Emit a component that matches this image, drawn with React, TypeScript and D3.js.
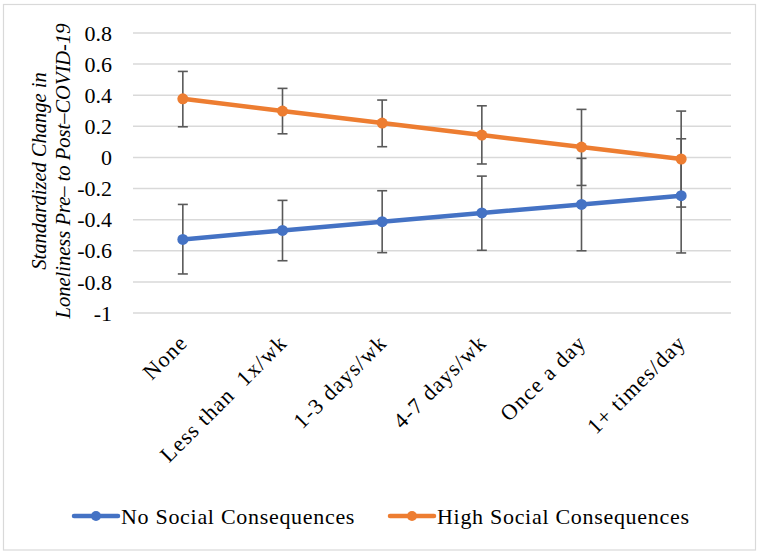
import React from "react";
import * as d3 from "d3";

const categories = ["None", "Less than  1x/wk", "1-3 days/wk", "4-7 days/wk", "Once a day", "1+ times/day"];
const noSocial = [-0.527, -0.469, -0.413, -0.357, -0.302, -0.246];
const noSocialLow = [-0.749, -0.664, -0.612, -0.597, -0.6, -0.614];
const noSocialHigh = [-0.302, -0.276, -0.214, -0.12, -0.006, 0.12];
const highSocial = [0.377, 0.298, 0.221, 0.144, 0.067, -0.01];
const highSocialLow = [0.197, 0.152, 0.069, -0.042, -0.18, -0.319];
const highSocialHigh = [0.553, 0.444, 0.369, 0.332, 0.309, 0.298];
const yTicks = [0.8, 0.6, 0.4, 0.2, 0, -0.2, -0.4, -0.6, -0.8, -1];
const seriesNames = ["No Social Consequences", "High Social Consequences"];

const W = 760;
const H = 559;
const FONT = "'Liberation Serif', 'Times New Roman', serif";

export default function App() {
  const x = d3.scaleBand<string>().domain(categories).range([133, 731]);
  const y = d3.scaleLinear().domain([-1, 0.8]).range([313, 33]);
  const cx = (c: string) => (x(c) as number) + x.bandwidth() / 2;
  const line = d3
    .line<number>()
    .x((_, i) => cx(categories[i]))
    .y((d) => y(d));

  const series = [
    { name: seriesNames[0], vals: noSocial, lo: noSocialLow, hi: noSocialHigh, color: "#4472C4" },
    { name: seriesNames[1], vals: highSocial, lo: highSocialLow, hi: highSocialHigh, color: "#ED7D31" },
  ];
  const fmt = (v: number) => (v === 0 ? "0" : v === -1 ? "-1" : d3.format(".1f")(v).replace("−", "-"));
  const legendX = [74, 390];

  return (
    <svg width={W} height={H} style={{ position: "absolute", left: 0, top: 0, background: "#fff" }} fontFamily={FONT}>
      <rect x={3.5} y={4.5} width={752} height={545.5} fill="#fff" stroke="#d9d9d9" strokeWidth={1.2} />
      {yTicks.map((t) => (
        <g key={t}>
          <line x1={133} x2={731} y1={y(t)} y2={y(t)} stroke="#d9d9d9" strokeWidth={1.5} />
          <text x={112} y={y(t)} dy="0.35em" textAnchor="end" fontSize={22} fill="#000">
            {fmt(t)}
          </text>
        </g>
      ))}
      <g transform={`translate(0,171) rotate(-90)`} fontStyle="italic" fontSize={20.5} textAnchor="middle">
        <text x={0} y={46}>Standardized Change in</text>
        <text x={0} y={70}>Loneliness Pre– to Post–COVID-19</text>
      </g>
      {categories.map((c) => (
        <text
          key={c}
          transform={`translate(${cx(c) + 6},${344}) rotate(-45)`}
          textAnchor="end"
          fontSize={22}
          letterSpacing={1.2}
          fill="#000"
          style={{ whiteSpace: "pre" }}
        >
          {c}
        </text>
      ))}
      {series.map((s) => (
        <g key={s.name + "err"} stroke="#595959" strokeWidth={1.6}>
          {categories.map((c, i) => (
            <g key={c}>
              <line x1={cx(c)} x2={cx(c)} y1={y(s.lo[i])} y2={y(s.hi[i])} />
              <line x1={cx(c) - 5} x2={cx(c) + 5} y1={y(s.lo[i])} y2={y(s.lo[i])} />
              <line x1={cx(c) - 5} x2={cx(c) + 5} y1={y(s.hi[i])} y2={y(s.hi[i])} />
            </g>
          ))}
        </g>
      ))}
      {series.map((s) => (
        <g key={s.name}>
          <path d={line(s.vals) as string} fill="none" stroke={s.color} strokeWidth={4.5} strokeLinecap="round" />
          {s.vals.map((v, i) => (
            <circle key={i} cx={cx(categories[i])} cy={y(v)} r={5.5} fill={s.color} />
          ))}
        </g>
      ))}
      {series.map((s, k) => (
        <g key={s.name + "leg"} transform={`translate(${legendX[k]},516)`}>
          <line x1={0} x2={44} y1={0} y2={0} stroke={s.color} strokeWidth={4.5} strokeLinecap="round" />
          <circle cx={22} cy={0} r={5} fill={s.color} />
          <text x={47} y={0} dy="0.35em" fontSize={22} letterSpacing={0.7} fill="#000">
            {s.name}
          </text>
        </g>
      ))}
    </svg>
  );
}
